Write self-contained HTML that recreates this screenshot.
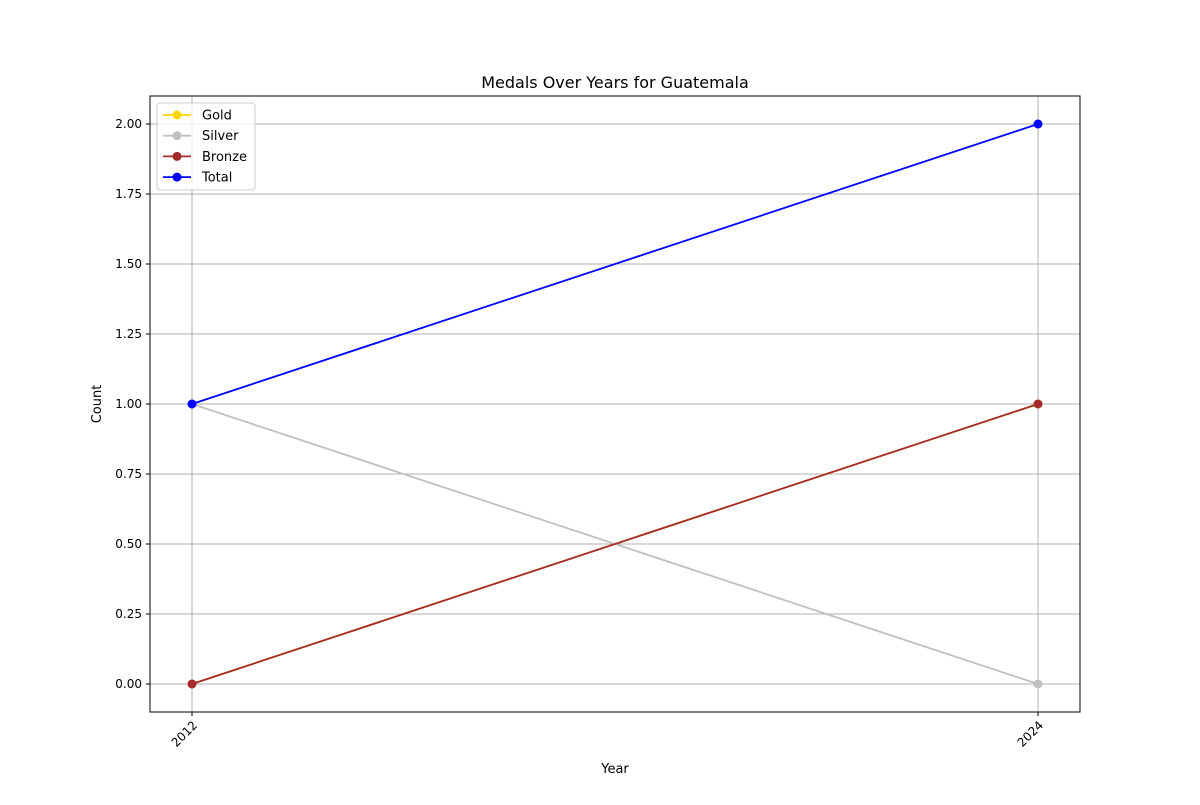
<!DOCTYPE html>
<html><head><meta charset="utf-8"><style>
body{margin:0;background:#fff;}
svg text{font-family:"DejaVu Sans","Liberation Sans",sans-serif;fill:#000;}
</style></head><body>
<svg width="1200" height="800" xmlns="http://www.w3.org/2000/svg">
<rect width="1200" height="800" fill="#fff"/>
<text x="615" y="88" font-size="16" text-anchor="middle">Medals Over Years for Guatemala</text>
<g id="grid"></g>
<g id="ticks"></g>
<g id="series"></g>
<rect x="150" y="96" width="930" height="616" fill="none" stroke="#000" stroke-width="1"/>
<text x="615" y="773" font-size="13" text-anchor="middle">Year</text>
<text transform="translate(101,404) rotate(-90)" font-size="13" text-anchor="middle">Count</text>
<g id="legend"></g>
</svg>
<script>
const years = [2012, 2024];
const gold = [0, 1];
const silver = [1, 0];
const bronze = [0, 1];
const total = [1, 2];
const yTicks = [0, 0.25, 0.5, 0.75, 1.0, 1.25, 1.5, 1.75, 2.0];
const seriesNames = ["Gold", "Silver", "Bronze", "Total"];
const seriesColors = ["#FFD700", "#C0C0C0", "#A52A2A", "#0000FF"];

const NS = "http://www.w3.org/2000/svg";
const xS = v => 192 + (v - 2012) / 12 * 846;
const yS = v => 684 - v * 280;
function mk(tag, attrs, parent) {
  const e = document.createElementNS(NS, tag);
  for (const k in attrs) e.setAttribute(k, attrs[k]);
  parent.appendChild(e); return e;
}
const grid = document.getElementById('grid'), ticks = document.getElementById('ticks');
yTicks.forEach(t => {
  const y = yS(t);
  const g = mk('line', {x1:150, x2:1080, y1:y, y2:y, stroke:'#b0b0b0', 'stroke-width':1}, grid);
  
  
  mk('line', {x1:146, x2:150, y1:y, y2:y, stroke:'#000'}, ticks);
  const tx = mk('text', {x:142, y:y+4, 'font-size':12, 'text-anchor':'end'}, ticks);
  tx.textContent = t.toFixed(2);
  
  
});
years.forEach(yr => {
  const x = xS(yr);
  const g = mk('line', {x1:x, x2:x, y1:96, y2:712, stroke:'#b0b0b0', 'stroke-width':1}, grid);
  
  
  mk('line', {x1:x, x2:x, y1:712, y2:716, stroke:'#000'}, ticks);
  const tx = mk('text', {x:0, y:0, 'font-size':12, 'text-anchor':'end', transform:`translate(${x+6},${726}) rotate(-45)`}, ticks);
  tx.textContent = yr;
  
  
});
const ser = document.getElementById('series');
[gold, silver, bronze, total].forEach((arr, i) => {
  const pts = [];
  arr.forEach((v, j) => { if (v !== null) pts.push([xS(years[j]), yS(v)]); });
  if (pts.length > 1) {
    const l = mk('polyline', {points: pts.map(p => p.join(',')).join(' '), fill:'none', stroke:seriesColors[i], 'stroke-width':1.8}, ser);
    
    
  }
  pts.forEach(p => {
    const c = mk('circle', {cx:p[0], cy:p[1], r:4.5, fill:seriesColors[i]}, ser);
    
    
  });
});
const leg = document.getElementById('legend');
const box = mk('rect', {x:157, y:103, width:98, height:87, rx:3, fill:'#fff', 'fill-opacity':0.8, stroke:'#ccc'}, leg);


seriesNames.forEach((n, i) => {
  const y = 115 + i * 20.7;
  mk('line', {x1:163, x2:191, y1:y, y2:y, stroke:seriesColors[i], 'stroke-width':1.8}, leg);
  mk('circle', {cx:177, cy:y, r:4.5, fill:seriesColors[i]}, leg);
  const t = mk('text', {x:202, y:y+4.5, 'font-size':13}, leg);
  t.textContent = n;
  
  
});
</script>
</body></html>
